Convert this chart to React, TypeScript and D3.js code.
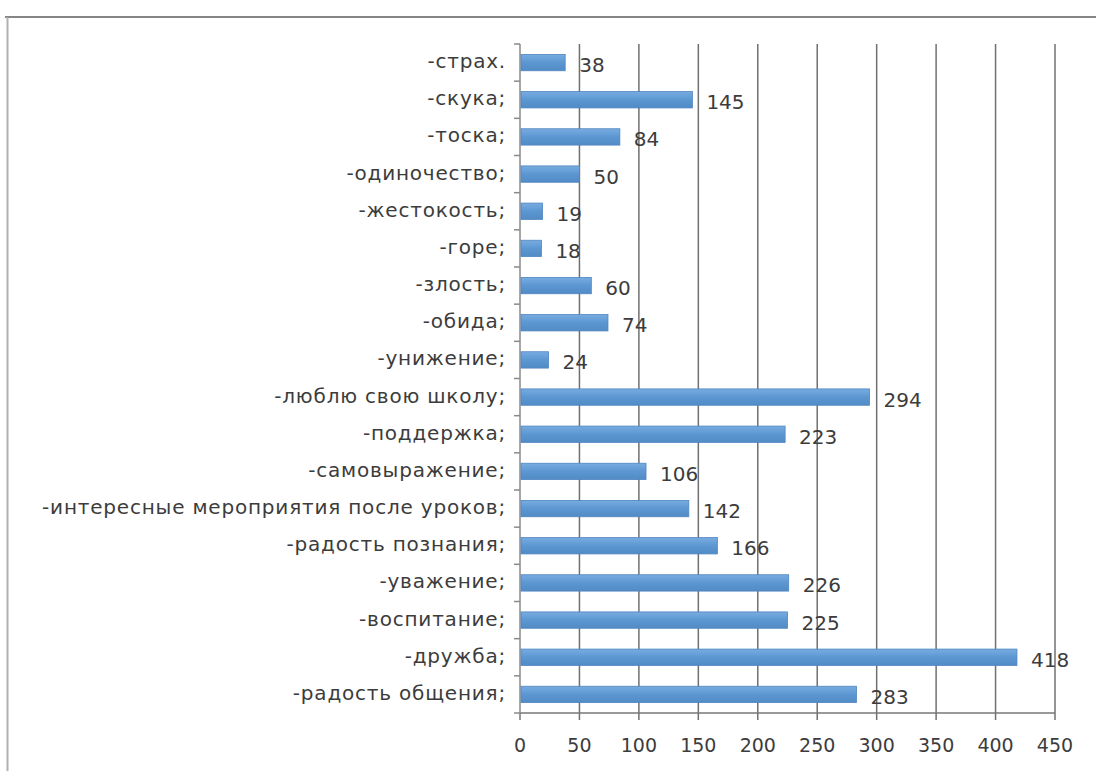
import React from "react";
import * as d3 from "d3";

const categories: string[] = [
  "-страх.",
  "-скука;",
  "-тоска;",
  "-одиночество;",
  "-жестокость;",
  "-горе;",
  "-злость;",
  "-обида;",
  "-унижение;",
  "-люблю свою школу;",
  "-поддержка;",
  "-самовыражение;",
  "-интересные мероприятия после уроков;",
  "-радость познания;",
  "-уважение;",
  "-воспитание;",
  "-дружба;",
  "-радость общения;",
];
const values: number[] = [38, 145, 84, 50, 19, 18, 60, 74, 24, 294, 223, 106, 142, 166, 226, 225, 418, 283];
const xTicks: number[] = [0, 50, 100, 150, 200, 250, 300, 350, 400, 450];

const W = 1096;
const H = 771;
const left = 520;
const right = 1055;
const top = 44;
const bottom = 713;

export default function App() {
  const x = d3.scaleLinear().domain([0, 450]).range([left, right]);
  const y = d3.scaleBand<string>().domain(categories).range([top, bottom]).paddingInner(0.56).paddingOuter(0.28);
  const step = y.step();
  const font = "'DejaVu Sans', sans-serif";
  return (
    <svg width={W} height={H} style={{ position: "absolute", left: 0, top: 0, background: "#fff" }}>
      <defs>
        <linearGradient id="barg" x1="0" y1="0" x2="0" y2="1">
          <stop offset="0" stopColor="#78ace0" />
          <stop offset="0.5" stopColor="#5c97d2" />
          <stop offset="1" stopColor="#528bc6" />
        </linearGradient>
      </defs>
      <rect x={0} y={0} width={W} height={H} fill="#fff" />
      {/* outer border */}
      <line x1={5} x2={W} y1={17} y2={17} stroke="#858585" strokeWidth={2} />
      <line x1={7.5} x2={7.5} y1={17} y2={H} stroke="#b0b0b0" strokeWidth={2} />
      {/* gridlines */}
      {xTicks.slice(1).map((t) => (
        <line key={"g" + t} x1={x(t)} x2={x(t)} y1={top} y2={bottom + 7} stroke="#707070" strokeWidth={1.5} />
      ))}
      {/* x axis line */}
      <line x1={left} x2={right} y1={bottom} y2={bottom} stroke="#777" strokeWidth={1.5} />
      <line x1={left} x2={left} y1={bottom} y2={bottom + 7} stroke="#777" strokeWidth={1.5} />
      {/* y axis */}
      <line x1={left} x2={left} y1={top} y2={bottom} stroke="#8a8a8a" strokeWidth={1.5} />
      {d3.range(categories.length + 1).map((i) => (
        <line key={"yt" + i} x1={left - 6} x2={left} y1={top + i * step} y2={top + i * step} stroke="#8a8a8a" strokeWidth={1.5} />
      ))}
      {/* bars */}
      {categories.map((c, i) => (
        <rect
          key={"b" + i}
          x={x(0) + 1}
          y={y(c)!}
          width={x(values[i]) - x(0) - 1}
          height={y.bandwidth()}
          fill="url(#barg)"
          stroke="#4f86c0"
          strokeWidth={0.8}
        />
      ))}
      {/* value labels */}
      {categories.map((c, i) => (
        <text
          key={"v" + i}
          x={x(values[i]) + 14}
          y={y(c)! + y.bandwidth() / 2 + 4}
          dominantBaseline="middle"
          fontFamily={font}
          fontSize={20}
          fill="#3c3c3c"
        >
          {values[i]}
        </text>
      ))}
      {/* category labels */}
      {categories.map((c, i) => (
        <text
          key={"c" + i}
          x={left - 14}
          y={y(c)! + y.bandwidth() / 2}
          textAnchor="end"
          dominantBaseline="middle"
          fontFamily={font}
          fontSize={20}
          letterSpacing={0.8}
          fill="#3c3c3c"
        >
          {c}
        </text>
      ))}
      {/* x tick labels */}
      {xTicks.map((t) => (
        <text
          key={"xl" + t}
          x={x(t)}
          y={bottom + 33}
          textAnchor="middle"
          dominantBaseline="middle"
          fontFamily={font}
          fontSize={19}
          fill="#3c3c3c"
        >
          {t}
        </text>
      ))}
    </svg>
  );
}
